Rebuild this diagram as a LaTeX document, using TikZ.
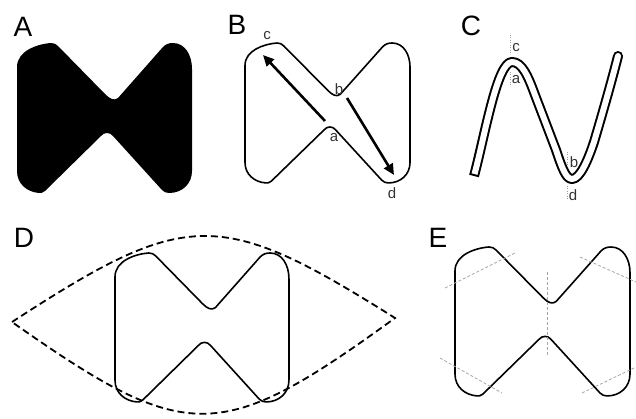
\documentclass[tikz,border=0pt]{standalone}
\usepackage{fontspec}
\setmainfont{Liberation Sans}
\usetikzlibrary{arrows.meta}
\tikzset{
  panel/.style={font=\fontsize{28}{28}\selectfont, inner sep=0pt, anchor=center},
  small/.style={font=\fontsize{15}{15}\selectfont, inner sep=0pt, anchor=center, text=black!80},
  outline/.style={line width=1.6pt, line join=round},
  lens/.style={line width=1.8pt, dash pattern=on 7pt off 4pt},
  guide/.style={gray!70, line width=0.8pt, dash pattern=on 3pt off 2pt},
  dotguide/.style={gray!80, line width=0.9pt, dash pattern=on 1pt off 1.5pt},
  bigarrow/.style={line width=2.6pt, -{Triangle[length=11pt,width=10pt]}}
}
\newcommand{\bowtiepath}{(0,24) .. controls (0,8) and (20,1) .. (34,0)
 .. controls (37,0) and (39,1) .. (41,3)
 -- (88,51)
 .. controls (93,56) and (97,58) .. (101,55)
 -- (146,4)
 .. controls (149,1) and (152,0) .. (156,0)
 .. controls (168,0) and (175,12) .. (175,26)
 -- (175,128)
 .. controls (175,141) and (165,150) .. (152,150)
 .. controls (149,150) and (147,149) .. (145,147)
 -- (96,93)
 .. controls (93,89) and (87,89) .. (84,93)
 -- (28,148)
 .. controls (26,150) and (24,150) .. (22,150)
 .. controls (10,149) and (0,141) .. (0,128)
 -- cycle}
\begin{document}
\begin{tikzpicture}[x=1pt,y=-1pt]
\useasboundingbox (0,0) rectangle (636,419);
% Panel labels
\node[panel] (lA) at (23,27) {A};
\node[panel] (lB) at (237,25) {B};
\node[panel] (lC) at (471,26) {C};
\node[panel] (lD) at (24,238) {D};
\node[panel] (lE) at (438,238) {E};
% A
\begin{scope}[shift={(17,43)}]
  \fill[black] \bowtiepath;
\end{scope}
% B
\begin{scope}[shift={(245,43)}, xscale=0.943, yscale=0.933]
  \draw[outline] \bowtiepath;
\end{scope}
\coordinate (Ba) at (325,121);
\coordinate (Bc) at (263,55);
\coordinate (Bb) at (347,98);
\coordinate (Bd) at (394,175);
\draw[bigarrow] (Ba) -- (Bc);
\draw[bigarrow] (Bb) -- (Bd);
\node[small] (tc) at (267,36) {c};
\node[small] (tb) at (339,89) {b};
\node[small] (ta) at (334,138) {a};
\node[small] (td) at (392,193) {d};
% C
\coordinate (CS) at (474,176);
\coordinate (CE) at (618,56);
\def\bandpath{(CS) .. controls (485,135) and (497,62) .. (512,62)
  .. controls (522,62) and (528,76) .. (535,95)
  -- (556,150) .. controls (562,168) and (566,179) .. (572,179)
  .. controls (580,179) and (588,160) .. (594,142)
  .. controls (602,115) and (612,80) .. (CE)}
\draw[black, line width=10pt, line cap=butt, line join=round] \bandpath;
\fill[black] (CE) circle (5pt);
\draw[white, line width=6pt, line cap=butt, line join=round, shorten <=2pt] \bandpath;
\fill[white] (CE) circle (3pt);
\draw[dotguide] (510,35) -- (510,53);
\draw[dotguide] (510,72) -- (510,86);
\draw[dotguide] (567,152) -- (567,167);
\draw[dotguide] (567,186) -- (567,201);
\node[small] (Cc) at (516,48) {c};
\node[small] (Ca) at (516,80) {a};
\node[small] (Cb) at (574,162) {b};
\node[small] (Cd) at (573,195) {d};
% D
\coordinate (DL) at (12,322);
\coordinate (DR) at (395,318);
\draw[lens] (DL) .. controls (187,208) and (220,208) .. (DR)
            .. controls (220,445) and (187,445) .. (DL) -- cycle;
\begin{scope}[shift={(115,253)}, xscale=0.994, yscale=0.993]
  \draw[outline] \bowtiepath;
\end{scope}
% E
\begin{scope}[shift={(455,247)}, xscale=1, yscale=0.993]
  \draw[outline] \bowtiepath;
\end{scope}
\draw[guide] (445,288) -- (515,253);
\draw[guide] (580,257) -- (636,282);
\draw[guide] (547,272) -- (547,355);
\draw[guide] (440,358) -- (502,393);
\draw[guide] (582,393) -- (636,367);
\end{tikzpicture}
\end{document}
